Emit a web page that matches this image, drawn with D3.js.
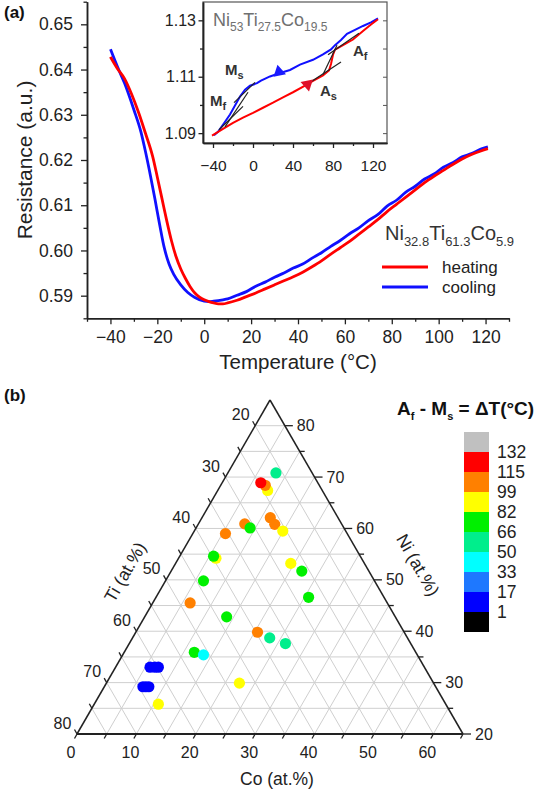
<!DOCTYPE html>
<html>
<head>
<meta charset="utf-8">
<script src="https://cdn.jsdelivr.net/npm/d3@7"></script>
<style>
  body { margin: 0; background: #fff; }
  text { font-family: Arial, "Liberation Sans", sans-serif; }
</style>
</head>
<body>
<svg id="chart" width="540" height="795"></svg>
<script>
// ---------- panel (a): resistance vs temperature ----------
const heatT = [-40,-37,-34,-31,-28,-25,-22,-20,-18,-16,-14,-12,-10,-8,-6,-4,-2,0,2,4,6,8,10,14,18,22,26,30,34,38,42,46,50,54,58,62,66,70,74,78,82,86,90,94,98,102,106,110,114,118,121];
const heatR = [.6428,.6402,.6380,.6346,.6305,.6258,.6208,.6162,.6114,.6066,.6022,.5986,.5959,.5938,.5920,.5906,.5897,.5891,.5887,.5884,.5882,.5882,.5884,.5890,.5898,.5906,.5915,.5924,.5933,.5942,.5952,.5964,.5977,.5992,.6006,.6020,.6036,.6052,.6068,.6086,.6102,.6118,.6134,.6150,.6164,.6177,.6190,.6202,.6212,.6220,.6225];
const coolT = [-40,-37,-34,-30,-27,-25,-23,-21,-19,-17,-15,-13,-10,-7,-4,0,2,4,8,10,14,18,22,26,30,34,38,42,46,50,54,58,62,66,70,74,78,82,86,90,94,98,102,106,110,114,118,121];
const coolR = [.6445,.6406,.6370,.6311,.6262,.6217,.6167,.6113,.6057,.6005,.5970,.5947,.5924,.5907,.5896,.5888,.5887,.5888,.5891,.5893,.5901,.5909,.5921,.5930,.5941,.5950,.5961,.5970,.5983,.5995,.6009,.6022,.6037,.6050,.6066,.6079,.6098,.6111,.6129,.6142,.6158,.6169,.6184,.6194,.6207,.6214,.6224,.6229];
const xTicksA = [-40,-20,0,20,40,60,80,100,120];
const xMinorA = [-50,-30,-10,10,30,50,70,90,110,130];
const yTicksA = [0.59,0.60,0.61,0.62,0.63,0.64,0.65];
const yMinorA = [0.585,0.595,0.605,0.615,0.625,0.635,0.645,0.655];

// inset: Ni53Ti27.5Co19.5
const inHeatT = [-41,-30,-20,-10,0,10,20,30,40,52,60,70,76,78,80,82,90,100,110,118,125];
const inHeatV = [1.0891,1.0915,1.0936,1.0955,1.0972,1.0990,1.1008,1.1027,1.1045,1.1068,1.1085,1.1105,1.1122,1.1145,1.1178,1.1196,1.1212,1.1232,1.1262,1.1285,1.1304];
const inCoolT = [125,118,110,102,94,88,82,78,70,60,47,37,27,17,8,4,-3,-8,-13,-18,-23,-29,-35,-39];
const inCoolV = [1.1307,1.1293,1.1280,1.1266,1.1252,1.1230,1.1212,1.1197,1.1179,1.1160,1.1143,1.1124,1.1113,1.1101,1.1086,1.1077,1.1068,1.1054,1.1030,1.0998,1.0966,1.0935,1.0905,1.0892];
const inXTicks = [-40,0,40,80,120];
const inXMinor = [-20,20,60,100];
const inYTicks = [1.09,1.11,1.13];
const inYMinor = [1.10,1.12];
// tangent constructions [T1, v1, T2, v2]
const tangents = [
  [-34,1.0912,-10,1.0995],
  [-19,1.1008,2,1.1080],
  [-28,1.0922,-5,1.1045],
  [58,1.1082,88,1.1152],
  [70,1.1108,84,1.1212],
  [75,1.1178,106,1.1254]
];

// ---------- panel (b): ternary Co-Ti-Ni ----------
const ptCo = [8.1,8.4,7.5,6.5,11.5,12.9,14.9,7.8,9.1,5.5,6.3,5.7,6.4,19.4,22.0,25.7,6.3,13.8,20.5,23.1,26.3,11.8,13.6,5.8,6.6,7.2,6.5,7.0,7.5,22.4,10.8];
const ptTi = [21.1,24.2,24.1,24.6,26.4,26.3,25.6,31.3,30.8,35.5,39.5,39.7,43.8,27.4,26.3,27.7,48.2,43.4,39.7,38.2,36.1,52.3,51.0,61.2,60.4,59.8,64.3,63.8,63.3,47.7,63.4];
const ptNi = [70.8,67.4,68.4,68.9,62.1,60.8,59.5,60.9,60.1,59.0,54.2,54.6,49.8,53.2,51.7,46.6,45.5,42.8,39.8,38.7,37.6,35.9,35.4,33.0,33.0,33.0,29.2,29.2,29.2,29.9,25.8];
const ptDT = [58,90,105,120,105,105,90,105,74,105,90,74,74,90,74,74,105,74,105,58,58,74,40,8,8,8,8,8,8,90,90];
const cbLevels = [1,17,33,50,66,82,99,115,132];
const cbColors = ["#000000","#0000ff","#1e78ff","#00ffff","#00ee8c","#00f000","#ffff00","#ff8000","#ff0000","#c0c0c0"];

const svg = d3.select("#chart");
svg.append("rect").attr("width", 540).attr("height", 795).attr("fill", "#fff");
const ink = "#222";

function styleAxis(g, size) {
  g.select(".domain").attr("stroke", ink).attr("stroke-width", 1.5);
  g.selectAll(".tick line").attr("stroke", ink).attr("stroke-width", 1.3);
  g.selectAll(".tick text").attr("fill", ink).attr("font-size", size)
    .attr("font-family", "Arial, 'Liberation Sans', sans-serif");
}

// text with subscripts: parts = [[text, isSub], ...]
function richText(sel, parts, size, subSize) {
  parts.forEach((p, i) => {
    const prevSub = i > 0 && parts[i - 1][1];
    sel.append("tspan").text(p[0])
      .attr("font-size", p[1] ? subSize : size)
      .attr("dy", p[1] && !prevSub ? size * 0.28 : (!p[1] && prevSub ? -size * 0.28 : 0));
  });
}

// ===== panel (a) =====
const xA = d3.scaleLinear().domain([-50, 130]).range([87, 509]);
const yA = d3.scaleLinear().domain([0.585, 0.655]).range([318.3, 1.7]);

svg.append("g").attr("transform", "translate(0,318.3)")
  .call(d3.axisBottom(xA).tickValues(xMinorA).tickSize(3.5).tickFormat("").tickSizeOuter(0))
  .call(g => styleAxis(g, 17.5));
svg.append("g").attr("transform", "translate(0,318.3)")
  .call(d3.axisBottom(xA).tickValues(xTicksA).tickSize(6).tickPadding(6.5).tickSizeOuter(0))
  .call(g => styleAxis(g, 17.5));
svg.append("g").attr("transform", "translate(87,0)")
  .call(d3.axisLeft(yA).tickValues(yMinorA).tickSize(3.5).tickFormat("").tickSizeOuter(0))
  .call(g => styleAxis(g, 17.5));
svg.append("g").attr("transform", "translate(87,0)")
  .call(d3.axisLeft(yA).tickValues(yTicksA).tickSize(6).tickPadding(8).tickFormat(d3.format(".2f")).tickSizeOuter(0))
  .call(g => styleAxis(g, 17.5));

svg.append("text").attr("transform", "translate(32,160) rotate(-90)")
  .attr("text-anchor", "middle").attr("font-size", 21).attr("fill", ink)
  .text("Resistance (a.u.)");
svg.append("text").attr("x", 298).attr("y", 369)
  .attr("text-anchor", "middle").attr("font-size", 20.5).attr("fill", ink)
  .text("Temperature (°C)");

const lineA = d3.line().x(d => xA(d[0])).y(d => yA(d[1])).curve(d3.curveMonotoneX);
svg.append("path").datum(coolT.map((t, i) => [t, coolR[i]]))
  .attr("d", lineA).attr("fill", "none").attr("stroke", "#1010ff").attr("stroke-width", 2.8);
svg.append("path").datum(heatT.map((t, i) => [t, heatR[i]]))
  .attr("d", lineA).attr("fill", "none").attr("stroke", "#ff0000").attr("stroke-width", 2.8);

// composition label + legend
const lblA = svg.append("text").attr("x", 385).attr("y", 240).attr("fill", "#333");
richText(lblA, [["Ni", false], ["32.8", true], ["Ti", false], ["61.3", true], ["Co", false], ["5.9", true]], 20, 13);
const legItems = [["heating", "#ff0000"], ["cooling", "#1010ff"]];
legItems.forEach((d, i) => {
  const y = 267 + i * 20;
  svg.append("line").attr("x1", 382).attr("x2", 428).attr("y1", y).attr("y2", y)
    .attr("stroke", d[1]).attr("stroke-width", 2.8);
  svg.append("text").attr("x", 442).attr("y", y + 6).attr("font-size", 17).attr("fill", ink).text(d[0]);
});

svg.append("text").attr("x", 4).attr("y", 18).attr("font-size", 17).attr("font-weight", "bold")
  .attr("font-family", "'Liberation Serif', 'Times New Roman', serif").attr("fill", "#111").text("(a)");

// ----- inset -----
const xI = d3.scaleLinear().domain([-50, 134]).range([203, 387]);
const yI = d3.scaleLinear().domain([1.0865, 1.1365]).range([143, 2]);
svg.append("rect").attr("x", 203).attr("y", 2).attr("width", 184).attr("height", 141)
  .attr("fill", "#fff").attr("stroke", "#555").attr("stroke-width", 1.2);
svg.append("g").attr("transform", "translate(0,143)")
  .call(d3.axisBottom(xI).tickValues(inXMinor).tickSize(3).tickFormat("").tickSizeOuter(0))
  .call(g => styleAxis(g, 15.5));
svg.append("g").attr("transform", "translate(0,143)")
  .call(d3.axisBottom(xI).tickValues(inXTicks).tickSize(5).tickPadding(12).tickSizeOuter(0))
  .call(g => styleAxis(g, 15.5));
svg.append("g").attr("transform", "translate(203,0)")
  .call(d3.axisLeft(yI).tickValues(inYMinor).tickSize(3).tickFormat("").tickSizeOuter(0))
  .call(g => styleAxis(g, 16));
svg.append("g").attr("transform", "translate(203,0)")
  .call(d3.axisLeft(yI).tickValues(inYTicks).tickSize(4.5).tickPadding(2.5).tickFormat(d3.format(".2f")).tickSizeOuter(0))
  .call(g => styleAxis(g, 16));
svg.append("g").attr("transform", "translate(387,0)")
  .call(d3.axisLeft(yI).tickValues(inYTicks.concat(inYMinor)).tickSize(4).tickFormat("").tickSizeOuter(0))
  .call(g => { g.select(".domain").remove(); g.selectAll(".tick line").attr("stroke", "#555"); });

const lblI = svg.append("text").attr("x", 213).attr("y", 26).attr("fill", "#707070");
richText(lblI, [["Ni", false], ["53", true], ["Ti", false], ["27.5", true], ["Co", false], ["19.5", true]], 18, 12);

const lineI = d3.line().x(d => xI(d[0])).y(d => yI(d[1]));
svg.append("path").datum(inCoolT.map((t, i) => [t, inCoolV[i]]))
  .attr("d", lineI).attr("fill", "none").attr("stroke", "#1010ff").attr("stroke-width", 2);
svg.append("path").datum(inHeatT.map((t, i) => [t, inHeatV[i]]))
  .attr("d", lineI).attr("fill", "none").attr("stroke", "#ff0000").attr("stroke-width", 2);
svg.append("g").selectAll("line").data(tangents).join("line")
  .attr("x1", d => xI(d[0])).attr("y1", d => yI(d[1]))
  .attr("x2", d => xI(d[2])).attr("y2", d => yI(d[3]))
  .attr("stroke", "#222").attr("stroke-width", 1.2);

// direction markers
const tri = d3.symbol(d3.symbolTriangle, 70);
svg.append("path").attr("d", tri).attr("fill", "#1a1aff")
  .attr("transform", `translate(${xI(26)},${yI(1.1117)}) rotate(-12)`);
svg.append("path").attr("d", tri).attr("fill", "#e0102a")
  .attr("transform", `translate(${xI(54.5)},${yI(1.1073)}) rotate(168)`);

const insetLbls = [[-28, 1.1106, "M", "s"], [-43, 1.0996, "M", "f"], [100, 1.1174, "A", "f"], [67, 1.1032, "A", "s"]];
insetLbls.forEach(d => {
  const t = svg.append("text").attr("x", xI(d[0])).attr("y", yI(d[1]))
    .attr("font-weight", "bold").attr("fill", "#333");
  richText(t, [[d[2], false], [d[3], true]], 15, 11);
});

// ===== panel (b) =====
svg.append("text").attr("x", 4).attr("y", 401).attr("font-size", 17).attr("font-weight", "bold")
  .attr("font-family", "'Liberation Serif', 'Times New Roman', serif").attr("fill", "#111").text("(b)");

// Co along the bottom edge (Ni = 20), Ni vertically; Ti = 100 - Co - Ni (15..80)
const coS = d3.scaleLinear().domain([0, 65]).range([77, 463]);
const niS = d3.scaleLinear().domain([20, 85]).range([734, 400]);
const tp = (co, ni) => [coS(co + (ni - 20) / 2), niS(ni)];

const grid = svg.append("g").attr("stroke", "#cfcfcf").attr("stroke-width", 1);
d3.range(5, 65, 5).forEach(v => {
  // constant Ni (horizontal)
  const ni = 20 + v;
  const a = tp(0, ni), b = tp(85 - ni, ni);
  grid.append("line").attr("x1", a[0]).attr("y1", a[1]).attr("x2", b[0]).attr("y2", b[1]);
  // constant Co
  const a2 = tp(v, 20), b2 = tp(v, 85 - v);
  grid.append("line").attr("x1", a2[0]).attr("y1", a2[1]).attr("x2", b2[0]).attr("y2", b2[1]);
  // constant Ti
  const ti = 80 - v;
  const a3 = tp(80 - ti, 20), b3 = tp(0, 100 - ti);
  grid.append("line").attr("x1", a3[0]).attr("y1", a3[1]).attr("x2", b3[0]).attr("y2", b3[1]);
});

const vA = tp(0, 20), vB = tp(65, 20), vC = tp(0, 85);
svg.append("line").attr("x1", vA[0]).attr("y1", vA[1]).attr("x2", vC[0]).attr("y2", vC[1]).attr("stroke", ink).attr("stroke-width", 1.5);
svg.append("line").attr("x1", vC[0]).attr("y1", vC[1]).attr("x2", vB[0]).attr("y2", vB[1]).attr("stroke", ink).attr("stroke-width", 1.5);
svg.append("line").attr("x1", vA[0]).attr("y1", vA[1]).attr("x2", vB[0]).attr("y2", vB[1]).attr("stroke", ink).attr("stroke-width", 2.2);

const tg = svg.append("g").attr("stroke", ink).attr("stroke-width", 1.3);
const lg = svg.append("g").attr("fill", ink).attr("font-size", 16);
d3.range(0, 66, 5).forEach(co => {
  const p = tp(co, 20);
  tg.append("line").attr("x1", p[0]).attr("y1", p[1]).attr("x2", p[0] - 2.5).attr("y2", p[1] + 4.5);
  if (co % 10 === 0) lg.append("text").attr("x", p[0] - 6).attr("y", p[1] + 24).attr("text-anchor", "middle").text(co);
});
d3.range(20, 81, 5).forEach(ti => {
  const p = tp(0, 100 - ti);
  tg.append("line").attr("x1", p[0]).attr("y1", p[1]).attr("x2", p[0] - 2.5).attr("y2", p[1] - 4.5);
  if (ti % 10 === 0) lg.append("text").attr("x", p[0] - 14.5).attr("y", p[1] - 11).attr("dy", "0.35em").attr("text-anchor", "middle").text(ti);
});
d3.range(20, 81, 5).forEach(ni => {
  const p = tp(85 - ni, ni);
  tg.append("line").attr("x1", p[0]).attr("y1", p[1]).attr("x2", p[0] + (ni % 10 === 0 ? 8 : 5)).attr("y2", p[1]);
  if (ni % 10 === 0) lg.append("text").attr("x", p[0] + 12).attr("y", p[1]).attr("dy", "0.35em").text(ni);
});

svg.append("text").attr("transform", "translate(125,572) rotate(-60)").attr("text-anchor", "middle")
  .attr("dy", "0.35em").attr("font-size", 17.5).attr("fill", ink).text("Ti (at.%)");
svg.append("text").attr("transform", "translate(418,565) rotate(60)").attr("text-anchor", "middle")
  .attr("dy", "0.35em").attr("font-size", 17.5).attr("fill", ink).text("Ni (at.%)");
svg.append("text").attr("x", 277).attr("y", 785).attr("text-anchor", "middle")
  .attr("font-size", 17.5).attr("fill", ink).text("Co (at.%)");

const colorOf = d3.scaleThreshold().domain(cbLevels).range(cbColors);
svg.append("g").selectAll("circle").data(ptCo.map((c, i) => i)).join("circle")
  .attr("cx", i => tp(ptCo[i], ptNi[i])[0])
  .attr("cy", i => tp(ptCo[i], ptNi[i])[1])
  .attr("r", 5.6)
  .attr("fill", i => colorOf(ptDT[i]));

// colour scale
const cbTop = 432, cbH = 20;
svg.append("g").selectAll("rect").data(cbColors.slice().reverse()).join("rect")
  .attr("x", 464).attr("y", (d, i) => cbTop + i * cbH).attr("width", 25).attr("height", cbH)
  .attr("fill", d => d);
svg.append("g").selectAll("text").data(cbLevels.slice().reverse()).join("text")
  .attr("x", 497).attr("y", (d, i) => cbTop + (i + 1) * cbH).attr("dy", "0.35em")
  .attr("font-size", 17.5).attr("fill", ink).text(d => d);

const title = svg.append("text").attr("x", 397).attr("y", 415).attr("font-size", 19)
  .attr("font-weight", "bold").attr("fill", "#111");
richText(title, [["A", false], ["f", true], [" - M", false], ["s", true], [" = ΔT(°C)", false]], 19, 11);
</script>
</body>
</html>
